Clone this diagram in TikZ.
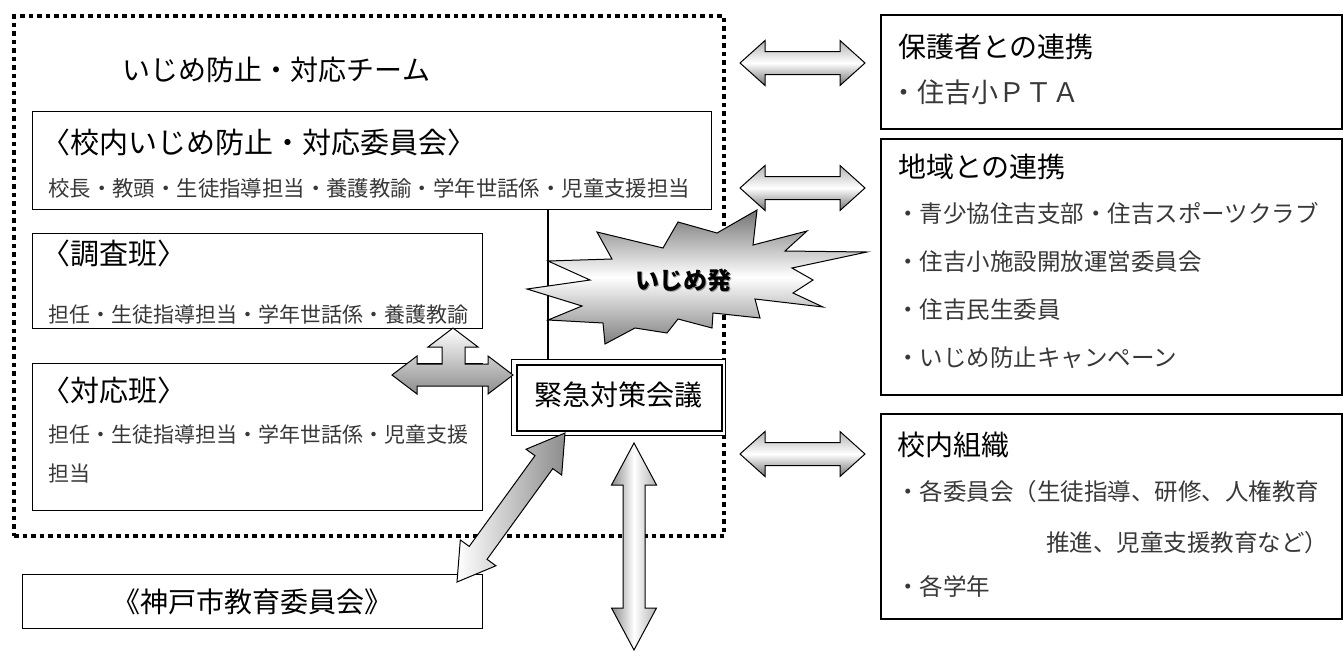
\documentclass[tikz,border=0pt]{standalone}
\usepackage{fontspec}
\setmainfont{Noto Sans CJK JP}
\usetikzlibrary{calc}
% #1,#2 tips, #3 head length, #4 head half width, #5 shaft half width, #6 style
\newcommand\blockarrow[6]{%
 \path[#6] (#1)
  -- ($(#1)!#3!(#2)!#4!90:(#2)$) -- ($(#1)!#3!(#2)!#5!90:(#2)$)
  -- ($(#2)!#3!(#1)!#5!-90:(#1)$) -- ($(#2)!#3!(#1)!#4!-90:(#1)$)
  -- (#2)
  -- ($(#2)!#3!(#1)!#4!90:(#1)$) -- ($(#2)!#3!(#1)!#5!90:(#1)$)
  -- ($(#1)!#3!(#2)!#5!-90:(#2)$) -- ($(#1)!#3!(#2)!#4!-90:(#2)$)
  -- cycle;}
\tikzset{
 frame/.style={draw, line width=4pt, dash pattern=on 4.5pt off 4pt, anchor=north west, inner sep=0pt},
 box/.style={draw, line width=1.3pt, anchor=north west, inner sep=0pt},
 rbox/.style={draw, line width=1.5pt, anchor=north west, inner sep=0pt},
 txt/.style={anchor=west, inner sep=0pt},
 ttl/.style={txt, font=\fontsize{29}{31}\selectfont},
 rttl/.style={txt, font=\fontsize{28}{30}\selectfont},
 body/.style={txt, text=black!78, font=\fontsize{21}{23}\selectfont},
 rbody/.style={txt, text=black!78, font=\fontsize{23.5}{25}\selectfont},
 hshade/.style={draw, line width=1pt, top color=black!30, bottom color=black!55, middle color=white},
 vshade/.style={draw, line width=1pt, left color=black!45, right color=black!30, middle color=white},
 dshade/.style={draw, line width=1pt, left color=white, right color=black!45},
 tshade/.style={draw, line width=1pt, top color=white, bottom color=black!45},
 burstshade/.style={draw, line width=1pt, top color=black!55, bottom color=black!50, middle color=white},
}
\begin{document}
\begin{tikzpicture}[x=1pt,y=-1pt]
\useasboundingbox (0,0) rectangle (1344,651);
% team frame
\node[frame, minimum width=710, minimum height=520] (team) at (12,14) {};
\node[font=\fontsize{28}{30}\selectfont, inner sep=0pt] (teamt) at (276.5,70) {いじめ防止・対応チーム};
% left boxes
\node[box, minimum width=679, minimum height=98] (iinkai) at (32,111) {};
\node[ttl] (iinkait) at (41,142) {〈校内いじめ防止・対応委員会〉};
\node[body, font=\fontsize{21.4}{23}\selectfont] (iinkaim) at (48,188) {校長・教頭・生徒指導担当・養護教諭・学年世話係・児童支援担当};
\node[box, minimum width=450, minimum height=95] (chousa) at (32,233) {};
\node[ttl] (chousat) at (41,253) {〈調査班〉};
\node[body] (chousam) at (48,314) {担任・生徒指導担当・学年世話係・養護教諭};
\node[box, minimum width=450, minimum height=147] (taiou) at (32,363) {};
\node[ttl] (taiout) at (41,390) {〈対応班〉};
\node[body] (taioum) at (48,435) {担任・生徒指導担当・学年世話係・児童支援};
\node[body] (taioum2) at (48,474) {担当};
\node[box, minimum width=460, minimum height=54, font=\fontsize{28}{30}\selectfont] (kobe) at (22,574) {《神戸市教育委員会》};
% emergency meeting
\node[draw, line width=1pt, anchor=north west, minimum width=214, minimum height=76, inner sep=0pt, fill=white] (kinkyu) at (511,359) {};
\node[draw, line width=2pt, minimum width=205, minimum height=66, inner sep=0pt] (kinkyuin) at ($(kinkyu.center)+(0.5,0)$) {};
\node[font=\fontsize{28}{30}\selectfont, inner sep=0pt] (kinkyut) at (618,395) {緊急対策会議};
% connector line
\coordinate (vl) at (548,0);
\draw[line width=1.2pt] (vl |- iinkai.south) -- (vl |- kinkyu.north);
% burst
\path[burstshade] (527,289) -- (590,280) -- (548,261) -- (612,259) -- (597,232) -- (663,248)
 -- (678,222) -- (717,233) -- (757,210) -- (753,245) -- (807,231) -- (785,251)
 -- (867,252) -- (792,268) -- (813,280) -- (793,293) -- (823,307) -- (755,299)
 -- (760,318) -- (713,313) -- (712,328) -- (678,319) -- (667,333) -- (635,328)
 -- (605,344) -- (603,323) -- (548,320) -- (582,306) -- cycle;
\node[font=\fontsize{24}{26}\selectfont\bfseries, text=black!40, inner sep=0pt] at (684.5,281.5) {いじめ発};
\node[font=\fontsize{24}{26}\selectfont\bfseries, inner sep=0pt] (burst) at (683,280) {いじめ発};
% right boxes
\node[rbox, minimum width=461, minimum height=114] (hogo) at (880,14) {};
\node[rttl] (hogot) at (898,47) {保護者との連携};
\node[rbody, font=\fontsize{27}{29}\selectfont] (hogom) at (890,92) {・住吉小ＰＴＡ};
\node[rbox, minimum width=461, minimum height=256] (chiiki) at (880,138) {};
\node[rttl] (chiikit) at (898,167) {地域との連携};
\node[rbody] (c1) at (896,213) {・青少協住吉支部・住吉スポーツクラブ};
\node[rbody] (c2) at (896,262) {・住吉小施設開放運営委員会};
\node[rbody] (c3) at (896,310) {・住吉民生委員};
\node[rbody] (c4) at (896,358) {・いじめ防止キャンペーン};
\node[rbox, minimum width=461, minimum height=205] (kounai) at (880,413) {};
\node[rttl] (kounait) at (897,445) {校内組織};
\node[rbody] (k1) at (896,492) {・各委員会（生徒指導、研修、人権教育};
\node[rbody] (k2) at (1046,543) {推進、児童支援教育など）};
\node[rbody] (k3) at (896,587) {・各学年};
% block arrows
\coordinate (a1l) at (740,63);  \coordinate (a1r) at (865,63);
\coordinate (a2l) at (740,188); \coordinate (a2r) at (865,188);
\coordinate (a3l) at (740,454); \coordinate (a3r) at (865,454);
\blockarrow{a1l}{a1r}{25pt}{22.5pt}{11.5pt}{hshade}
\blockarrow{a2l}{a2r}{25pt}{22.5pt}{11.5pt}{hshade}
\blockarrow{a3l}{a3r}{25pt}{22.5pt}{11.5pt}{hshade}
\coordinate (dtop) at (565,433); \coordinate (dbot) at (457,582);
\blockarrow{dtop}{dbot}{36pt}{22pt}{11pt}{dshade}
\coordinate (vtop) at (634,443); \coordinate (vbot) at (634,650);
\blockarrow{vtop}{vbot}{42pt}{22.5pt}{11pt}{vshade}
% three-headed arrow
\path[tshade] (392,375) -- (417,356) -- (417,364) -- (442,364) -- (442,347) -- (428,347)
 -- (453,328) -- (478,347) -- (465,347) -- (465,364) -- (488,364) -- (488,356)
 -- (513,375) -- (488,394) -- (488,386) -- (417,386) -- (417,394) -- cycle;
\end{tikzpicture}
\end{document}
